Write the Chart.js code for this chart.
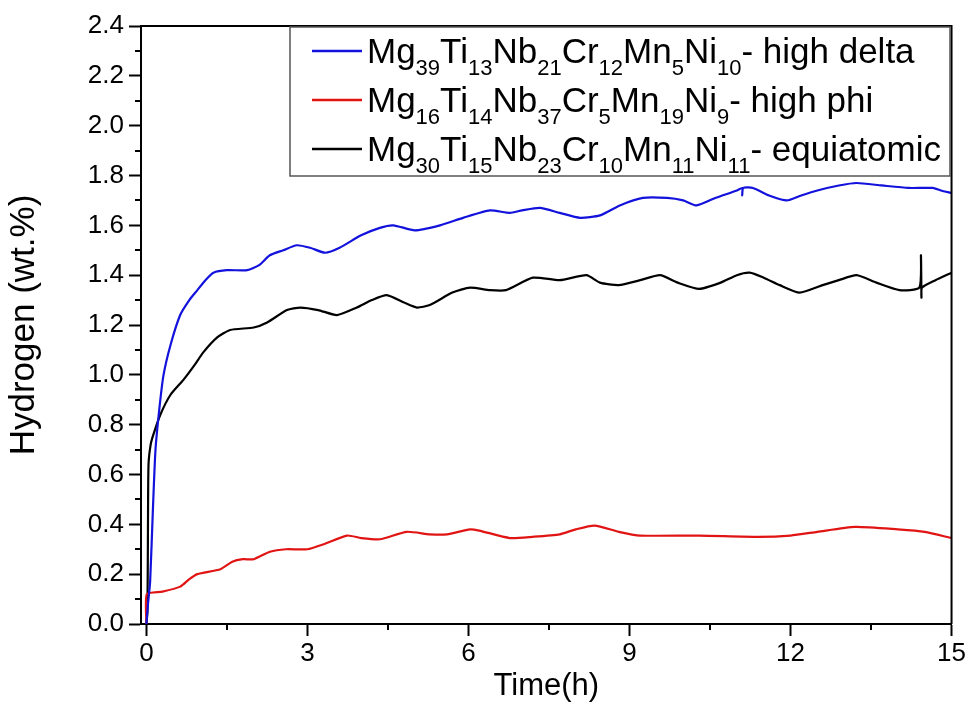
<!DOCTYPE html>
<html>
<head>
<meta charset="utf-8">
<script src="https://cdn.jsdelivr.net/npm/chart.js@4/dist/chart.umd.min.js"></script>
<style>
  html, body { margin: 0; padding: 0; background: #fff; }
  #wrap { width: 968px; height: 719px; }
</style>
</head>
<body>
<div id="wrap"><canvas id="chart" width="968" height="719"></canvas></div>
<script>
// time (h) and hydrogen uptake (wt.%)
const tDelta = [0, 0.03, 0.07, 0.12, 0.17, 0.25, 0.32, 0.45, 0.63, 0.8, 0.95, 1.1, 1.25, 1.5, 1.88, 2.1, 2.3, 2.55, 2.8, 3.05, 3.33, 3.6, 4.0, 4.35, 4.6, 5.0, 5.47, 5.9, 6.4, 6.77, 7.0, 7.33, 7.7, 8.08, 8.45, 8.82, 9.25, 9.7, 10.0, 10.25, 10.6, 11.0, 11.1, 11.1, 11.12, 11.3, 11.6, 11.93, 12.2, 12.5, 12.9, 13.23, 13.7, 14.2, 14.65, 14.8, 15.0];
const hDelta = [0, 0.08, 0.17, 0.45, 0.70, 0.88, 1.00, 1.12, 1.24, 1.30, 1.34, 1.38, 1.41, 1.42, 1.42, 1.44, 1.48, 1.50, 1.52, 1.51, 1.49, 1.51, 1.56, 1.59, 1.60, 1.58, 1.60, 1.63, 1.66, 1.65, 1.66, 1.67, 1.65, 1.63, 1.64, 1.68, 1.71, 1.71, 1.70, 1.68, 1.71, 1.74, 1.75, 1.72, 1.75, 1.75, 1.72, 1.70, 1.72, 1.74, 1.76, 1.77, 1.76, 1.75, 1.75, 1.74, 1.73];

const tPhi = [0, 0.01, 0.3, 0.63, 0.8, 0.95, 1.38, 1.6, 1.8, 2.0, 2.3, 2.6, 3.0, 3.3, 3.74, 4.0, 4.35, 4.85, 5.28, 5.6, 6.03, 6.2, 6.77, 7.2, 7.7, 8.0, 8.35, 8.8, 9.2, 10.3, 11.4, 12.0, 12.5, 13.2, 14.0, 14.5, 15.0];
const hPhi = [0, 0.12, 0.13, 0.15, 0.18, 0.20, 0.22, 0.25, 0.26, 0.26, 0.29, 0.30, 0.30, 0.32, 0.355, 0.345, 0.34, 0.37, 0.36, 0.36, 0.38, 0.375, 0.345, 0.35, 0.36, 0.38, 0.395, 0.37, 0.355, 0.355, 0.35, 0.355, 0.37, 0.39, 0.38, 0.37, 0.345];

const tEqui = [0, 0.02, 0.03, 0.04, 0.08, 0.13, 0.26, 0.45, 0.69, 0.9, 1.06, 1.32, 1.56, 2.0, 2.25, 2.62, 2.87, 3.2, 3.55, 3.92, 4.2, 4.48, 4.8, 5.04, 5.28, 5.7, 6.03, 6.4, 6.7, 7.2, 7.7, 8.2, 8.45, 8.8, 9.2, 9.57, 9.9, 10.3, 10.7, 11.0, 11.24, 11.5, 11.8, 12.17, 12.6, 12.9, 13.23, 13.6, 14.03, 14.4, 14.43, 14.44, 14.45, 14.7, 15.0];
const hEqui = [0, 0.05, 0.40, 0.64, 0.72, 0.76, 0.84, 0.92, 0.98, 1.04, 1.09, 1.15, 1.18, 1.19, 1.21, 1.26, 1.27, 1.26, 1.24, 1.27, 1.30, 1.32, 1.29, 1.27, 1.28, 1.33, 1.35, 1.34, 1.34, 1.39, 1.38, 1.40, 1.37, 1.36, 1.38, 1.40, 1.37, 1.345, 1.37, 1.40, 1.41, 1.39, 1.36, 1.33, 1.36, 1.38, 1.40, 1.37, 1.34, 1.35, 1.48, 1.31, 1.35, 1.38, 1.41];

// legend labels: [element, subscript] pairs plus a suffix
const labelDelta = [['Mg', '39'], ['Ti', '13'], ['Nb', '21'], ['Cr', '12'], ['Mn', '5'], ['Ni', '10'], ['- high delta', '']];
const labelPhi = [['Mg', '16'], ['Ti', '14'], ['Nb', '37'], ['Cr', '5'], ['Mn', '19'], ['Ni', '9'], ['- high phi', '']];
const labelEqui = [['Mg', '30'], ['Ti', '15'], ['Nb', '23'], ['Cr', '10'], ['Mn', '11'], ['Ni', '11'], ['- equiatomic', '']];

const xTicks = [0, 3, 6, 9, 12, 15];
const xMinor = [1.5, 4.5, 7.5, 10.5, 13.5];
const yMinor = [0.1, 0.3, 0.5, 0.7, 0.9, 1.1, 1.3, 1.5, 1.7, 1.9, 2.1, 2.3];

const FONT = "'Liberation Sans', Arial, sans-serif";

function pts(ts, hs) {
  return ts.map((t, i) => ({ x: t, y: hs[i] }));
}

function labelText(parts) {
  return parts.map((p) => p[0] + p[1]).join('');
}

const series = [
  { parts: labelDelta, color: '#1212dc', data: pts(tDelta, hDelta) },
  { parts: labelPhi, color: '#e11414', data: pts(tPhi, hPhi) },
  { parts: labelEqui, color: '#000000', data: pts(tEqui, hEqui) },
];

// frame on top/right and the short minor ticks
const frameTicks = {
  id: 'frameTicks',
  afterDraw(chart) {
    const { ctx, chartArea: a, scales: { x, y } } = chart;
    ctx.save();
    ctx.strokeStyle = '#000';
    ctx.lineWidth = 2;
    ctx.beginPath();
    yMinor.forEach((v) => {
      const py = Math.round(y.getPixelForValue(v));
      ctx.moveTo(a.left, py);
      ctx.lineTo(a.left - 6, py);
    });
    xMinor.forEach((v) => {
      const px = Math.round(x.getPixelForValue(v));
      ctx.moveTo(px, a.bottom);
      ctx.lineTo(px, a.bottom + 6);
    });
    ctx.moveTo(a.left, a.top);
    ctx.lineTo(a.right, a.top);
    ctx.lineTo(a.right, a.bottom);
    ctx.stroke();
    ctx.restore();
  }
};

// legend with subscripts
const subLegend = {
  id: 'subLegend',
  afterDraw(chart) {
    const ctx = chart.ctx;
    const box = { left: 290, top: 27, right: 950, bottom: 176 };
    ctx.save();
    ctx.fillStyle = '#fff';
    ctx.fillRect(box.left, box.top, box.right - box.left, box.bottom - box.top);
    ctx.strokeStyle = '#555';
    ctx.lineWidth = 1.5;
    ctx.strokeRect(box.left, box.top, box.right - box.left, box.bottom - box.top);

    chart.data.datasets.forEach((ds, i) => {
      const ly = 51 + i * 49;
      ctx.strokeStyle = ds.borderColor;
      ctx.lineWidth = 2.5;
      ctx.beginPath();
      ctx.moveTo(312, ly);
      ctx.lineTo(362, ly);
      ctx.stroke();

      let tx = 367;
      const base = ly + 12;
      ctx.fillStyle = '#000';
      ctx.textBaseline = 'alphabetic';
      ctx.textAlign = 'left';
      series[i].parts.forEach(([main, sub]) => {
        ctx.font = `35px ${FONT}`;
        ctx.fillText(main, tx, base);
        tx += ctx.measureText(main).width;
        if (sub) {
          ctx.font = `22px ${FONT}`;
          ctx.fillText(sub, tx, base + 12);
          tx += ctx.measureText(sub).width;
        }
      });
    });
    ctx.restore();
  }
};

new Chart(document.getElementById('chart'), {
  type: 'line',
  data: {
    datasets: series.map((s) => ({
      label: labelText(s.parts),
      data: s.data,
      borderColor: s.color,
      backgroundColor: s.color,
      borderWidth: 2.2,
      pointRadius: 0,
      tension: 0.2,
      fill: false,
    }))
  },
  options: {
    responsive: false,
    animation: false,
    events: [],
    layout: { padding: { top: 26, right: 16, left: 0, bottom: 0 } },
    plugins: {
      legend: { display: false },
      tooltip: { enabled: false },
    },
    scales: {
      x: {
        type: 'linear',
        min: -0.1,
        max: 15,
        afterBuildTicks: (scale) => { scale.ticks = xTicks.map((v) => ({ value: v })); },
        afterFit: (scale) => { scale.height = 95; },
        grid: { display: true, drawOnChartArea: false, tickLength: 12, tickColor: '#000', tickWidth: 2 },
        border: { display: true, color: '#000', width: 2 },
        ticks: { color: '#000', font: { family: FONT, size: 26 }, padding: 2, maxRotation: 0 },
        title: { display: true, text: 'Time(h)', color: '#000', font: { family: FONT, size: 31 }, padding: { top: 0, bottom: 14 } },
      },
      y: {
        min: 0,
        max: 2.4,
        afterFit: (scale) => { scale.width = 141; },
        grid: { display: true, drawOnChartArea: false, tickLength: 12, tickColor: '#000', tickWidth: 2 },
        border: { display: true, color: '#000', width: 2 },
        ticks: { stepSize: 0.2, color: '#000', font: { family: FONT, size: 26 }, padding: 5, callback: (v) => Number(v).toFixed(1) },
        title: { display: true, text: 'Hydrogen (wt.%)', color: '#000', font: { family: FONT, size: 35 }, padding: { top: 3, bottom: 0 } },
      },
    },
  },
  plugins: [frameTicks, subLegend],
});
</script>
</body>
</html>
